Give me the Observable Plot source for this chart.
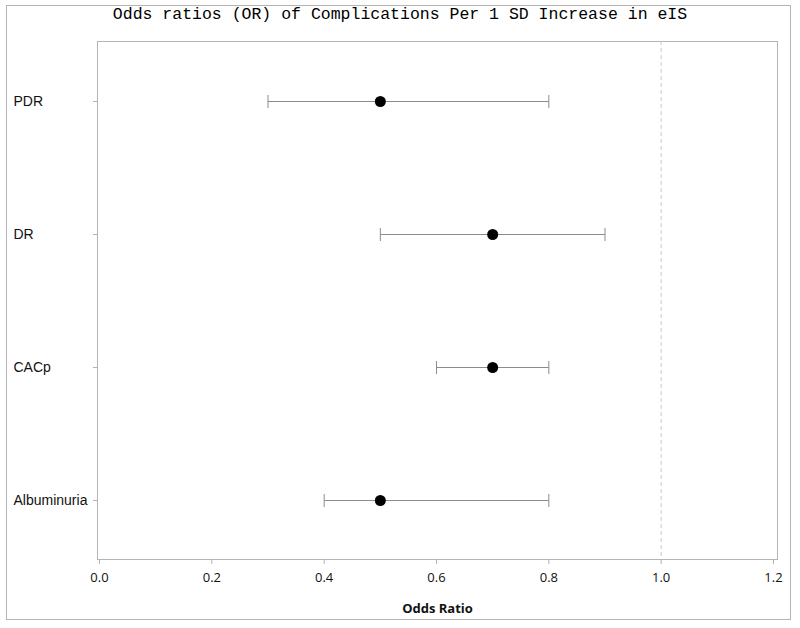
<!DOCTYPE html>
<html>
<head>
<meta charset="utf-8">
<script src="https://cdn.jsdelivr.net/npm/d3@7"></script>
<script src="https://cdn.jsdelivr.net/npm/@observablehq/plot@0.6"></script>
<style>
  html, body { margin: 0; padding: 0; background: #fff; }
  #wrap { position: relative; width: 800px; height: 628px; }
  #border { position: absolute; left: 6px; top: 5px; width: 785px; height: 615px; border: 1px solid #b4b4b4; box-sizing: border-box; }
  #title { position: absolute; left: 0; top: 5px; width: 800px; text-align: center; font-family: "Liberation Mono", "DejaVu Sans Mono", monospace; font-size: 16.5px; line-height: 20px; color: #000; }
  #chart { position: absolute; left: 0; top: 0; }
</style>
</head>
<body>
<div id="wrap">
  <div id="border"></div>
  <div id="title">Odds ratios (OR) of Complications Per 1 SD Increase in eIS</div>
  <div id="chart"></div>
</div>
<script>
const outcomes = ["PDR", "DR", "CACp", "Albuminuria"];
const oddsRatio = [0.5, 0.7, 0.7, 0.5];
const lowerCI = [0.3, 0.5, 0.6, 0.4];
const upperCI = [0.8, 0.9, 0.8, 0.8];
const xTicks = [0, 0.2, 0.4, 0.6, 0.8, 1.0, 1.2];
const refLine = [1.0];

const data = outcomes.map((o, i) => ({outcome: o, or: oddsRatio[i], lo: lowerCI[i], hi: upperCI[i]}));

const capSymbol = {
  draw(context, size) {
    const h = Math.sqrt(size / Math.PI);
    context.moveTo(0, -h);
    context.lineTo(0, h);
  }
};

const chart = Plot.plot({
  width: 800,
  height: 628,
  marginLeft: 97,
  marginRight: 23,
  marginTop: 41,
  marginBottom: 69,
  style: {fontFamily: "'Open Sans', sans-serif", fontSize: "13px", color: "#111", background: "transparent"},
  x: {domain: [0, 1.2], insetLeft: 2, insetRight: 4, ticks: xTicks},
  y: {type: "point", domain: outcomes, padding: 0.44},
  marks: [
    Plot.frame({stroke: "#b4b4b4"}),
    Plot.ruleX(refLine, {stroke: "#c8c8c8", strokeDasharray: "4,3"}),
    Plot.link(data, {x1: "lo", x2: "hi", y1: "outcome", y2: "outcome", stroke: "#8c8c8c", strokeWidth: 1}),
    Plot.dot(data, {x: "lo", y: "outcome", symbol: capSymbol, r: 6.5, stroke: "#8c8c8c", fill: "none", strokeWidth: 1}),
    Plot.dot(data, {x: "hi", y: "outcome", symbol: capSymbol, r: 6.5, stroke: "#8c8c8c", fill: "none", strokeWidth: 1}),
    Plot.dot(data, {x: "or", y: "outcome", r: 5.5, fill: "#000", stroke: "none"}),
    Plot.axisX({ticks: xTicks, tickFormat: d3.format(".1f"), tickSize: 5, tickPadding: 8, stroke: "#b4b4b4",
      label: "Odds Ratio", labelAnchor: "center", labelArrow: "none", labelOffset: 53}),
    Plot.axisY({tickSize: 4, tickPadding: 80, textAnchor: "start", stroke: "#b4b4b4", label: null,
      fontFamily: "'Liberation Sans', Arial, sans-serif", fontSize: 14})
  ]
});
document.getElementById("chart").appendChild(chart);
chart.querySelectorAll("g[aria-label='x-axis label'] text").forEach(t => t.setAttribute("font-weight", "bold"));
</script>
</body>
</html>
